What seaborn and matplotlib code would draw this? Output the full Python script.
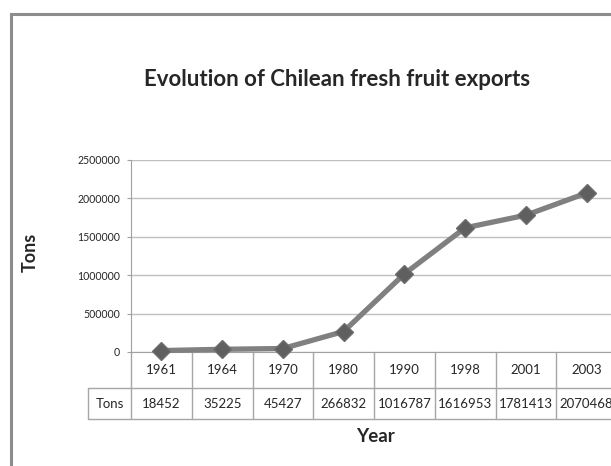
import pandas as pd
import matplotlib.pyplot as plt
import matplotlib.patches as patches
import matplotlib.transforms as mtransforms
import seaborn as sns

# data
years = ["1961", "1964", "1970", "1980", "1990", "1998", "2001", "2003"]
tons = [18452, 35225, 45427, 266832, 1016787, 1616953, 1781413, 2070468]
y_ticks = [0, 500000, 1000000, 1500000, 2000000, 2500000]

df = pd.DataFrame({"year": years, "tons": tons})

sns.set_style("white")
plt.rcParams["font.family"] = ["Lato", "DejaVu Sans"]

W, H = 611, 466
fig = plt.figure(figsize=(W / 100, H / 100), dpi=100)

# plot area in pixels (left 131, right 617, top 160, bottom 352)
ax = fig.add_axes([131 / W, (H - 352) / H, 486 / W, 192 / H])

sns.lineplot(data=df, x="year", y="tons", sort=False, ax=ax,
             color="#808080", linewidth=3.8, marker="D", markersize=9,
             markerfacecolor="#5f5f5f", markeredgecolor="#6e6e6e",
             markeredgewidth=1, clip_on=False, zorder=5)

n = len(years)
ax.set_xlim(-0.5, n - 0.5)
ax.set_ylim(0, 2500000)
ax.set_yticks(y_ticks)
ax.set_yticklabels([str(v) for v in y_ticks], fontsize=7.6)
ax.set_xticks([])
ax.set_xlabel("")
ax.set_ylabel("")
ax.grid(axis="y", color="#c0c0c0", linewidth=1)
ax.set_axisbelow(True)
for s in ["top", "right"]:
    ax.spines[s].set_visible(False)
ax.spines["left"].set_color("#a0a0a0")
ax.spines["bottom"].set_color("#a0a0a0")
ax.tick_params(axis="y", left=True, length=3, color="#a0a0a0", pad=5)

# data table under the axis
trans = mtransforms.blended_transform_factory(ax.transData, ax.transAxes)
row1 = -36 / 192
row2 = -67 / 192
tons_left = -0.5 - 43 / 60.75
line_kw = dict(color="#a6a6a6", linewidth=1, transform=trans, clip_on=False)
for k in range(n + 1):
    ax.plot([k - 0.5, k - 0.5], [0, row2], **line_kw)
ax.plot([tons_left, tons_left], [row1, row2], **line_kw)
ax.plot([tons_left, n - 0.5], [row1, row1], **line_kw)
ax.plot([tons_left, n - 0.5], [row2, row2], **line_kw)

for i, (yr, v) in enumerate(zip(years, tons)):
    ax.text(i, (row1) / 2, yr, transform=trans, ha="center", va="center",
            fontsize=9.5, clip_on=False)
    ax.text(i, (row1 + row2) / 2, str(v), transform=trans, ha="center",
            va="center", fontsize=9.5, clip_on=False)
ax.text((tons_left - 0.5) / 2, (row1 + row2) / 2, "Tons", transform=trans,
        ha="center", va="center", fontsize=9.5, clip_on=False)

# titles
fig.text(337 / W, 1 - 80 / H, "Evolution of Chilean fresh fruit exports",
         ha="center", va="center", fontsize=16, fontweight="bold")
fig.text(30 / W, 1 - 252 / H, "Tons", rotation=90, ha="center", va="center",
         fontsize=13, fontweight="bold")
fig.text(375 / W, 1 - 437 / H, "Year", ha="center", va="center",
         fontsize=13.5, fontweight="bold")

# chart frame (cut off on the right and bottom)
frame = patches.Rectangle((10.5 / W, -0.2), 1.2, (H - 13.5) / H + 0.2,
                          transform=fig.transFigure, fill=False,
                          edgecolor="#8c8c8c", linewidth=2.2, clip_on=False)
fig.patches.append(frame)

fig.savefig("out.png", dpi=100)
